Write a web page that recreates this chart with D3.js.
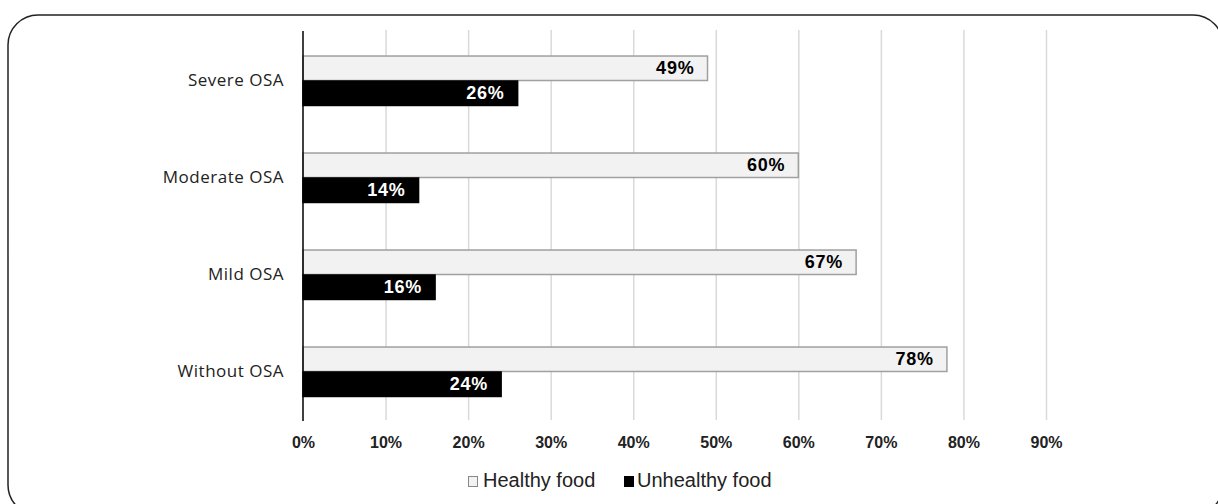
<!DOCTYPE html>
<html><head><meta charset="utf-8">
<script src="https://cdn.jsdelivr.net/npm/d3@7"></script>
<style>body{margin:0;background:#fff}svg{display:block}</style>
</head><body><svg id="c" width="1218" height="504"></svg>
<script>
const categories = ["Severe OSA","Moderate OSA","Mild OSA","Without OSA"];
const seriesNames = ["Healthy food","Unhealthy food"];
const healthy = [49,60,67,78];
const unhealthy = [26,14,16,24];
const xTicks = [0,10,20,30,40,50,60,70,80,90];

const svg = d3.select("#c");
svg.append("rect").attr("x",8).attr("y",15).attr("width",1215).attr("height",500)
  .attr("rx",30).attr("fill","none").attr("stroke","#222").attr("stroke-width",1.5);

const x = d3.scaleLinear().domain([0,90]).range([303,1046]);
const y0 = d3.scaleBand().domain(categories).range([32,420]).paddingInner(0.485).paddingOuter(0.2425);
const y1 = d3.scaleBand().domain(seriesNames).range([0,y0.bandwidth()]);
const color = d3.scaleOrdinal().domain(seriesNames).range(["#f2f2f2","#000"]);
const stroke = d3.scaleOrdinal().domain(seriesNames).range(["#a0a0a0","#000"]);
const labelColor = d3.scaleOrdinal().domain(seriesNames).range(["#000","#fff"]);

// gridlines
svg.append("g").selectAll("line").data(xTicks.slice(1)).join("line")
  .attr("x1",d=>x(d)+0.5).attr("x2",d=>x(d)+0.5).attr("y1",30).attr("y2",420)
  .attr("stroke","#d9d9d9").attr("stroke-width",1.5);

// x axis tick labels
const xAxis = d3.axisBottom(x).tickValues(xTicks).tickSize(0).tickPadding(0).tickFormat(d=>d+"%");
const gx = svg.append("g").attr("transform","translate(0,442.5)").call(xAxis);
gx.select(".domain").remove();
gx.selectAll("text").attr("font-family","Liberation Sans, Arial, sans-serif")
  .attr("font-weight","bold").attr("font-size",16).attr("fill","#222")
  .attr("dy",null).attr("dominant-baseline","central");

// y axis
const yAxis = d3.axisLeft(y0).tickSize(0).tickPadding(19);
const gy = svg.append("g").attr("transform","translate(303,0)").call(yAxis);
gy.select(".domain").remove();
gy.selectAll("text").attr("font-family","Open Sans, Noto Sans, sans-serif")
  .attr("font-size",17).attr("letter-spacing",0.5).attr("fill","#222");

const data = categories.map((c,i)=>({cat:c, vals:[{s:seriesNames[0],v:healthy[i]},{s:seriesNames[1],v:unhealthy[i]}]}));
const groups = svg.append("g").selectAll("g").data(data).join("g")
  .attr("transform",d=>`translate(0,${y0(d.cat)})`);
groups.selectAll("rect").data(d=>d.vals).join("rect")
  .attr("x",x(0)).attr("y",d=>y1(d.s)+0.5).attr("width",d=>x(d.v)-x(0))
  .attr("height",y1.bandwidth()-0.5)
  .attr("fill",d=>color(d.s)).attr("stroke",d=>stroke(d.s)).attr("stroke-width",1.5);
groups.selectAll("text").data(d=>d.vals).join("text")
  .attr("x",d=>x(d.v)-13).attr("y",d=>y1(d.s)+y1.bandwidth()/2+1)
  .attr("text-anchor","end").attr("dominant-baseline","middle")
  .attr("font-family","Liberation Sans, Arial, sans-serif").attr("font-weight","bold")
  .attr("font-size",18).attr("letter-spacing",0.8)
  .attr("fill",d=>labelColor(d.s)).text(d=>d.v+"%");

// axis line
svg.append("line").attr("x1",303).attr("x2",303).attr("y1",31).attr("y2",421)
  .attr("stroke","#000").attr("stroke-width",1.5);

// legend
const legendX = [468,624];
const lg = svg.append("g").selectAll("g").data(seriesNames).join("g")
  .attr("transform",(d,i)=>`translate(${legendX[i]},476)`);
lg.append("rect").attr("x",0.5).attr("y",0.5).attr("width",9).attr("height",10)
  .attr("fill",d=>color(d)).attr("stroke",d=>d===seriesNames[0]?"#888":"#000");
lg.append("text").attr("x",d=>d===seriesNames[0]?15:13).attr("y",6).attr("dominant-baseline","middle")
  .attr("font-family","Liberation Sans, Arial, sans-serif").attr("font-size",20).attr("fill","#222")
  .text(d=>d);
</script></body></html>
